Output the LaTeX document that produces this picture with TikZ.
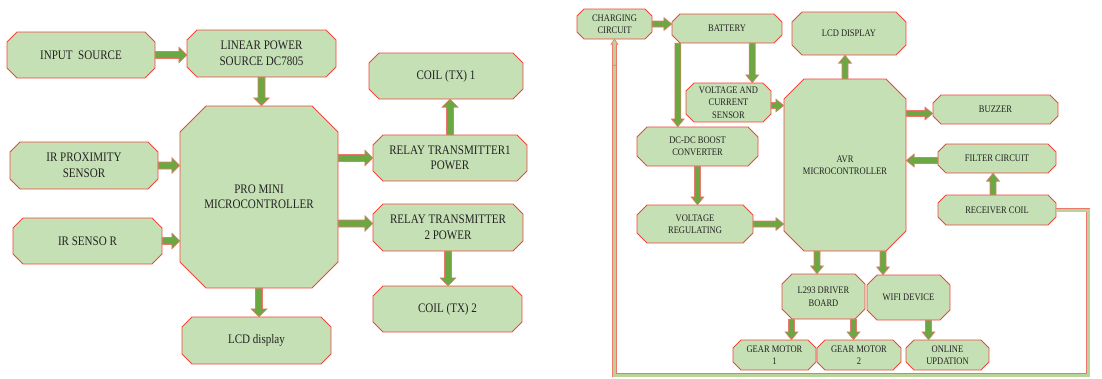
\documentclass[tikz,border=0pt]{standalone}
\usepackage{fontspec}
\setmainfont{Liberation Serif}[FakeStretch=0.85]
\usetikzlibrary{calc}
\definecolor{boxfill}{RGB}{197,224,180}
\definecolor{boxred}{RGB}{240,70,60}
\definecolor{arrgreen}{RGB}{108,168,66}
\definecolor{arred}{RGB}{235,120,110}
\definecolor{loopfill}{RGB}{185,212,150}
\definecolor{txt}{RGB}{35,35,35}
\tikzset{
 boxshape/.style={fill=boxfill, draw=boxred, line width=0.9pt, line join=miter},
 ltxt/.style={inner sep=0pt, align=center, text=txt, font=\fontsize{13}{15.5}\selectfont},
 rtxt/.style={inner sep=0pt, align=center, text=txt, font=\fontsize{10}{12.5}\selectfont},
 barstyle/.style={fill=arrgreen, draw=arred, line width=0.6pt, line join=miter},
 loopstyle/.style={fill=loopfill, draw=arred, line width=0.6pt, line join=miter},
 loopline/.style={draw=arred, line width=0.6pt, double=loopfill, double distance=3pt},
}
% #1 style, #2 name, #3 x1, #4 y1, #5 x2, #6 y2, #7 chamfer, #8 text
\newcommand\obox[8]{%
 \filldraw[boxshape] ({#3+#7},#4) -- ({#5-#7},#4) -- (#5,{#4+#7}) -- (#5,{#6-#7}) -- ({#5-#7},#6) -- ({#3+#7},#6) -- (#3,{#6-#7}) -- (#3,{#4+#7}) -- cycle;
 \node[#1, minimum width={#5pt-#3pt}, minimum height={#6pt-#4pt}] (#2) at ({(#3+#5)/2},{(#4+#6)/2}) {#8};}
% block arrow: [style] shaft half, head half, head length, from, to
\newcommand\barr[6][barstyle]{%
 \coordinate (bA) at (#5);
 \coordinate (bB) at (#6);
 \coordinate (bH) at ($(bB)!#4pt!(bA)$);
 \filldraw[#1] ($(bA)!#2pt!90:(bB)$) -- ($(bH)!#2pt!90:(bB)$) -- ($(bH)!#3pt!90:(bB)$) -- (bB) -- ($(bH)!#3pt!-90:(bB)$) -- ($(bH)!#2pt!-90:(bB)$) -- ($(bA)!#2pt!-90:(bB)$) -- cycle;}
\newcommand\arrL[2]{\barr{3.5}{8}{8}{#1}{#2}}
\newcommand\arrR[2]{\barr{3}{6.5}{8}{#1}{#2}}
\begin{document}
\begin{tikzpicture}[x=1pt,y=-1pt]
\useasboundingbox (0,0) rectangle (1102,378);
% ---------- left diagram ----------
\obox{ltxt}{inp}{7}{32}{155}{78}{10}{INPUT~~SOURCE}
\obox{ltxt}{lin}{187}{30}{336}{77}{10}{LINEAR POWER\\SOURCE DC7805}
\obox{ltxt}{irp}{10}{142}{158}{189}{10}{IR PROXIMITY\\SENSOR}
\obox{ltxt}{irs}{13}{218}{162}{264}{10}{IR SENSO R}
\obox{ltxt}{pro}{180}{106}{338}{288}{26}{PRO MINI\\MICROCONTROLLER}
\obox{ltxt}{lcd}{182}{317}{331}{364}{10}{LCD display}
\obox{ltxt}{coila}{369}{53}{523}{99}{10}{COIL (TX) 1}
\obox{ltxt}{rela}{373}{135}{527}{181}{10}{RELAY TRANSMITTER1\\POWER}
\obox{ltxt}{relb}{373}{204}{523}{251}{10}{RELAY TRANSMITTER\\2 POWER}
\obox{ltxt}{coilb}{373}{286}{522}{332}{10}{COIL (TX) 2}
\arrL{inp.east}{inp.east -| lin.west}
\arrL{lin.south}{lin.south |- pro.north}
\arrL{irp.east}{irp.east -| pro.west}
\arrL{irs.east}{irs.east -| pro.west}
\arrL{pro.south}{pro.south |- lcd.north}
\arrL{rela.west -| pro.east}{rela.west}
\coordinate (rb) at ($(relb.west)+(0,-4)$);
\arrL{rb -| pro.east}{rb}
\arrL{rela.north}{rela.north |- coila.south}
\arrL{relb.south}{relb.south |- coilb.north}
% ---------- right diagram ----------
\obox{rtxt}{cc}{577}{9}{652}{39}{7}{CHARGING\\CIRCUIT}
\obox{rtxt}{bat}{672}{14}{782}{43}{8}{BATTERY}
\obox{rtxt}{lcdd}{792}{12}{906}{55}{10}{LCD DISPLAY}
\obox{rtxt}{vcs}{686}{83}{771}{122}{8}{VOLTAGE AND\\CURRENT\\SENSOR}
\obox{rtxt}{avr}{784}{79}{906}{251}{20}{AVR\\MICROCONTROLLER}
\obox{rtxt}{buz}{933}{95}{1058}{124}{8}{BUZZER}
\obox{rtxt}{fil}{938}{144}{1056}{173}{8}{FILTER CIRCUIT}
\obox{rtxt}{rc}{938}{195}{1056}{225}{8}{RECEIVER COIL}
\obox{rtxt}{dcdc}{637}{127}{758}{166}{10}{DC-DC BOOST\\CONVERTER}
\obox{rtxt}{vr}{637}{205}{753}{243}{10}{VOLTAGE\\REGULATING}
\obox{rtxt}{drv}{782}{274}{865}{319}{10}{L293 DRIVER\\BOARD}
\obox{rtxt}{wifi}{867}{275}{950}{320}{10}{WIFI DEVICE}
\obox{rtxt}{gma}{733}{340}{816}{370}{8}{GEAR MOTOR\\1}
\obox{rtxt}{gmb}{817}{340}{901}{370}{8}{GEAR MOTOR\\2}
\obox{rtxt}{onl}{906}{340}{989}{370}{8}{ONLINE\\UPDATION}
% feedback loop
\coordinate (lr) at (1088,375);
\coordinate (lp) at ($(cc.south)+(0,26)$);
\draw[loopline] (rc.east) -| (lr) -| (lp);
\barr[loopstyle]{2}{3.5}{5}{lp}{cc.south}
% arrows
\arrR{cc.east}{cc.east -| bat.west}
\coordinate (bv) at ($(bat.south east)+(-30,0)$);
\arrR{bv}{bv |- vcs.north}
\coordinate (bd) at ($(bat.south west)+(6,0)$);
\arrR{bd}{bd |- dcdc.north}
\coordinate (vc) at ($(vcs.east)+(0,3)$);
\arrR{vc}{vc -| avr.west}
\arrR{avr.north}{avr.north |- lcdd.south}
\coordinate (bz) at ($(buz.west)+(0,4)$);
\arrR{bz -| avr.east}{bz}
\coordinate (fc) at ($(fil.west)+(0,2)$);
\arrR{fc}{fc -| avr.east}
\coordinate (rcn) at ($(rc.north)+(-4,0)$);
\arrR{rcn}{rcn |- fil.south}
\arrR{dcdc.south}{dcdc.south |- vr.north}
\arrR{vr.east}{vr.east -| avr.west}
\coordinate (ad) at ($(avr.south)+(-28,0)$);
\arrR{ad}{ad |- drv.north}
\coordinate (aw) at ($(avr.south)+(38,0)$);
\arrR{aw}{aw |- wifi.north}
\coordinate (dg) at ($(drv.south)+(-32,0)$);
\arrR{dg}{dg |- gma.north}
\coordinate (dh) at ($(drv.south)+(30,0)$);
\arrR{dh}{dh |- gmb.north}
\coordinate (wo) at ($(wifi.south)+(20,0)$);
\arrR{wo}{wo |- onl.north}
\end{tikzpicture}
\end{document}
